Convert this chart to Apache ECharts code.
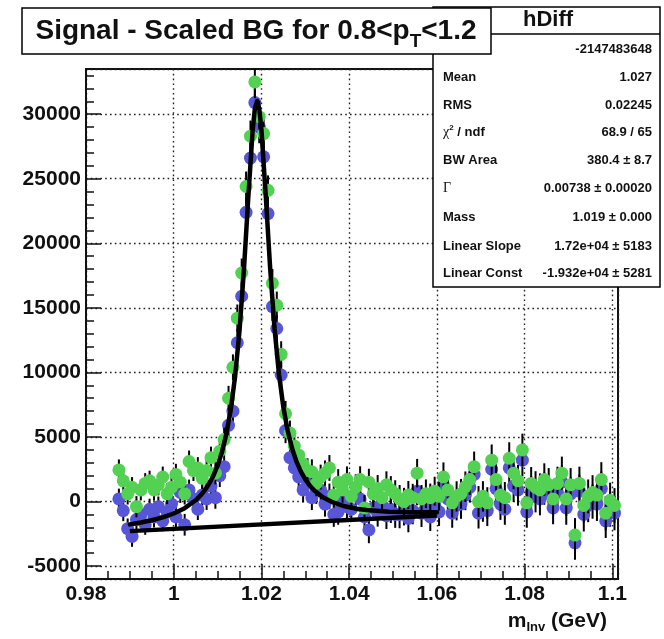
<!DOCTYPE html>
<html>
<head>
<meta charset="utf-8">
<title>hDiff</title>
<script src="https://cdn.jsdelivr.net/npm/echarts@6.0.0/dist/echarts.min.js"></script>
<style>
html,body{margin:0;padding:0;background:#ffffff;}
#chart{width:664px;height:639px;}
</style>
</head>
<body>
<div id="chart"></div>
<script>
// ---------------- data ----------------
const binCenters = [
0.9875,0.9885,0.9895,0.9905,0.9915,0.9925,0.9935,0.9945,0.9955,0.9965,
0.9975,0.9985,0.9995,1.0005,1.0015,1.0025,1.0035,1.0045,1.0055,1.0065,
1.0075,1.0085,1.0095,1.0105,1.0115,1.0125,1.0135,1.0145,1.0155,1.0165,
1.0175,1.0185,1.0195,1.0205,1.0215,1.0225,1.0235,1.0245,1.0255,1.0265,
1.0275,1.0285,1.0295,1.0305,1.0315,1.0325,1.0335,1.0345,1.0355,1.0365,
1.0375,1.0385,1.0395,1.0405,1.0415,1.0425,1.0435,1.0445,1.0455,1.0465,
1.0475,1.0485,1.0495,1.0505,1.0515,1.0525,1.0535,1.0545,1.0555,1.0565,
1.0575,1.0585,1.0595,1.0605,1.0615,1.0625,1.0635,1.0645,1.0655,1.0665,
1.0675,1.0685,1.0695,1.0705,1.0715,1.0725,1.0735,1.0745,1.0755,1.0765,
1.0775,1.0785,1.0795,1.0805,1.0815,1.0825,1.0835,1.0845,1.0855,1.0865,
1.0875,1.0885,1.0895,1.0905,1.0915,1.0925,1.0935,1.0945,1.0955,1.0965,
1.0975,1.0985,1.0995,1.1005];

const blueCounts = [
200,-700,-2100,-2700,-1400,-1000,-1800,-600,-1200,-400,
-1500,-800,-200,-1200,700,-1800,900,200,-600,500,
200,1200,300,2000,2700,5900,7000,12300,15900,22400,
26600,30900,29000,26700,22300,15100,13400,9800,5500,3400,
2600,1900,900,1500,300,800,900,-200,400,-1000,
-800,200,-400,-600,500,200,-1200,-2200,-500,-900,
-300,-1100,-600,-1000,-1000,-800,-1300,-700,800,-900,
-400,-1200,-300,-800,1300,200,-900,-300,-200,500,
1100,2100,-900,-400,-700,2500,1000,-200,-600,2600,
1200,900,3200,-800,700,400,200,1000,600,-500,
700,1500,-500,600,-3200,800,-1000,-300,0,-200,
1000,-1500,-600,-900];

const blueErrors = [
800,820,790,810,830,800,780,820,810,790,
800,830,820,790,810,840,800,820,830,810,
850,840,860,880,900,950,980,1050,1100,1150,
1200,1250,1250,1200,1150,1100,1050,1000,980,960,
950,960,970,940,960,980,950,970,990,960,
1000,980,1010,990,1000,1020,1000,1030,1010,1040,
1050,1030,1060,1040,1070,1050,1080,1060,1090,1070,
1100,1080,1110,1090,1120,1150,1130,1160,1140,1170,
1180,1160,1190,1170,1200,1210,1190,1220,1200,1230,
1240,1220,1250,1230,1260,1240,1270,1250,1280,1260,
1290,1270,1300,1280,1310,1290,1320,1300,1330,1310,
1340,1320,1350,1330];

const greenCounts = [
2450,1600,600,1100,-400,900,1400,1600,900,1300,
1900,600,1100,2100,1500,600,3100,2400,2600,1800,
2400,3400,2200,3900,4800,8000,10400,14200,17700,24400,
28300,32500,29800,28500,24100,16900,15200,11400,6800,5300,
4300,3600,2900,2400,2300,1400,1900,2200,2600,500,
1500,900,1700,400,1100,1700,-500,1500,600,1000,
300,1300,900,600,200,0,500,300,2200,200,
600,300,800,400,1900,900,-100,400,600,1150,
1700,2700,0,400,-100,3200,1700,500,300,3350,
2200,1600,4000,-100,1400,1100,900,1700,1300,200,
1400,2200,200,1300,-2600,1400,-300,400,700,500,
1700,-900,100,-300];

const greenErrors = [
810,800,830,790,820,810,800,790,830,820,
810,800,840,820,800,830,850,810,840,830,
860,850,870,890,920,960,1000,1060,1120,1160,
1210,1260,1240,1210,1160,1110,1060,1010,990,970,
960,950,980,950,970,990,960,980,1000,970,
1010,990,1020,1000,1010,1030,1010,1040,1020,1050,
1060,1040,1070,1050,1080,1060,1090,1070,1100,1080,
1110,1090,1120,1100,1130,1160,1140,1170,1150,1180,
1190,1170,1200,1180,1210,1220,1200,1230,1210,1240,
1250,1230,1260,1240,1270,1250,1280,1260,1290,1270,
1300,1280,1310,1290,1320,1300,1330,1310,1340,1320,
1350,1330,1360,1340];

// fitted Breit-Wigner + linear curve
const fitX = [0.990,0.9925,0.995,0.9975,1.000,1.0025,1.005,1.006,1.007,1.008,
1.009,1.010,1.011,1.012,1.013,1.014,1.015,1.016,1.017,1.018,
1.0185,1.019,1.0195,1.020,1.021,1.022,1.023,1.024,1.025,1.026,
1.027,1.028,1.029,1.030,1.031,1.032,1.034,1.036,1.039,1.042,
1.044,1.049,1.054,1.060];
const fitY = [-1769,-1625,-1448,-1224,-927,-514,98,430,836,1337,
1968,2774,3826,5223,7109,9692,13225,17911,23536,28760,
30421,31022,30439,28794,23605,18014,13363,9864,7315,5463,
4101,3084,2312,1715,1248,878,337,-23,-369,-574,
-663,-788,-830,-824];

// linear background component of the fit
const bgX = [0.990, 1.060];
const bgY = [-2292, -1088];

const histName = 'hDiff';
const entriesText = '-2147483648';
const statsValues = ['1.027','0.02245','68.9 / 65','380.4 \u00b1 8.7','0.00738 \u00b1 0.00020',
  '1.019 \u00b1 0.000','1.72e+04 \u00b1 5183','-1.932e+04 \u00b1 5281'];
const statsLabels = ['{b|Mean}','{b|RMS}','{g|\u03c7}{sup|2}{b| / ndf}','{b|BW Area}','{g|\u0393}',
  '{b|Mass}','{b|Linear Slope}','{b|Linear Const}'];

// ---------------- chart ----------------
const FONT = '"Liberation Sans", Arial, Helvetica, sans-serif';
const SERIF = '"Liberation Serif", "DejaVu Serif", serif';
const INK = '#111111';
const BLUE = '#5656d6';
const GREEN = '#53d152';

const chart = echarts.init(document.getElementById('chart'), null, {renderer: 'canvas', width: 664, height: 639});

function barRenderer(params, api) {
  const x = api.value(0);
  const p1 = api.coord([x, api.value(1)]);
  const p2 = api.coord([x, api.value(2)]);
  return {
    type: 'line',
    shape: {x1: p1[0], y1: p1[1], x2: p2[0], y2: p2[1]},
    style: {stroke: '#000', lineWidth: 2}
  };
}

const blueBars = binCenters.map((x, i) => [x, blueCounts[i] - blueErrors[i], blueCounts[i] + blueErrors[i]]);
const greenBars = binCenters.map((x, i) => [x, greenCounts[i] - greenErrors[i], greenCounts[i] + greenErrors[i]]);
const bluePts = binCenters.map((x, i) => [x, blueCounts[i]]);
const greenPts = binCenters.map((x, i) => [x, greenCounts[i]]);
const fitPts = fitX.map((x, i) => [x, fitY[i]]);
const bgPts = bgX.map((x, i) => [x, bgY[i]]);

const tickLine = {color: INK, width: 1.5};
const gridDots = {color: '#222', width: 1.4, type: [1.6, 3.2]};
const labelStyle = {color: INK, fontSize: 21, fontWeight: 'bold', fontFamily: FONT};

const statRowsY = [77, 105, 132, 160, 188, 217, 246, 273];
const graphics = [
  {type: 'rect', z: 100, shape: {x: 433, y: 7, width: 227, height: 280},
   style: {fill: '#fff', stroke: '#000', lineWidth: 1.5}},
  {type: 'line', z: 101, shape: {x1: 491, y1: 34, x2: 660, y2: 34},
   style: {stroke: '#000', lineWidth: 1.5}},
  {type: 'text', z: 101, x: 548, y: 20,
   style: {text: histName, fill: INK, fontSize: 22, fontWeight: 'bold', fontFamily: FONT,
           align: 'center', verticalAlign: 'middle'}},
  {type: 'text', z: 101, x: 652, y: 49,
   style: {text: entriesText, fill: INK, fontSize: 13, fontWeight: 'bold', fontFamily: FONT,
           align: 'right', verticalAlign: 'middle'}},
  {type: 'rect', z: 110, shape: {x: 22, y: 8, width: 469, height: 46},
   style: {fill: '#fff', stroke: '#000', lineWidth: 1.5}},
  {type: 'text', z: 111, x: 256, y: 31,
   style: {
     text: '{a|Signal - Scaled BG for 0.8<p}{s|T}{a|<1.2}',
     align: 'center', verticalAlign: 'middle',
     rich: {
       a: {fill: INK, fontSize: 28, fontWeight: 'bold', fontFamily: FONT, lineHeight: 46},
       s: {fill: INK, fontSize: 19, fontWeight: 'bold', fontFamily: FONT, lineHeight: 19,
           verticalAlign: 'top', padding: [24, 0, 0, 0]}
     }
   }},
  {type: 'text', z: 50, x: 607, y: 621,
   style: {
     text: '{a|m}{s|Inv}{a| (GeV)}',
     align: 'right', verticalAlign: 'middle',
     rich: {
       a: {fill: INK, fontSize: 21, fontWeight: 'bold', fontFamily: FONT, lineHeight: 30},
       s: {fill: INK, fontSize: 13, fontWeight: 'bold', fontFamily: FONT, lineHeight: 13,
           verticalAlign: 'top', padding: [15, 0, 0, 0]}
     }
   }}
];
statsLabels.forEach((lab, i) => {
  graphics.push({type: 'text', z: 101, x: 443, y: statRowsY[i],
    style: {text: lab, align: 'left', verticalAlign: 'middle',
      rich: {
        b: {fill: INK, fontSize: 13, fontWeight: 'bold', fontFamily: FONT, lineHeight: 16},
        g: {fill: INK, fontSize: 14, fontFamily: SERIF, lineHeight: 16},
        sup: {fill: INK, fontSize: 8, fontWeight: 'bold', fontFamily: FONT, lineHeight: 9, verticalAlign: 'top'}
      }}});
  graphics.push({type: 'text', z: 101, x: 652, y: statRowsY[i],
    style: {text: statsValues[i], fill: INK, fontSize: 13, fontWeight: 'bold', fontFamily: FONT,
      align: 'right', verticalAlign: 'middle'}});
});

const option = {
  animation: false,
  backgroundColor: '#ffffff',
  grid: {left: 86, right: 46, top: 69, bottom: 60, show: true, borderColor: INK, borderWidth: 2,
         backgroundColor: 'transparent', containLabel: false, outerBoundsMode: 'none'},
  xAxis: [
    {type: 'value', min: 0.98, max: 1.1013, interval: 0.02, position: 'bottom',
     axisLine: {show: true, onZero: false, lineStyle: {color: INK, width: 2}},
     axisTick: {show: true, inside: true, length: 15, lineStyle: tickLine},
     axisLabel: Object.assign({show: true, margin: 5, showMaxLabel: false,
       formatter: v => String(Math.round(v * 100) / 100)}, labelStyle),
     splitLine: {show: true, lineStyle: gridDots}, z: 3},
    {type: 'value', min: 0.98, max: 1.1013, interval: 0.005, position: 'bottom',
     axisLine: {show: false, onZero: false},
     axisTick: {show: true, inside: true, length: 8, lineStyle: tickLine},
     axisLabel: {show: false}, splitLine: {show: false}, z: 3}
  ],
  yAxis: [
    {type: 'value', min: -6000, max: 33500, splitNumber: 8, position: 'left',
     axisLine: {show: true, onZero: false, lineStyle: {color: INK, width: 2}},
     axisTick: {show: true, inside: true, length: 15, lineStyle: tickLine},
     axisLabel: Object.assign({show: true, margin: 5, showMinLabel: false, showMaxLabel: false,
       formatter: v => (v % 5000 === 0 ? String(v) : '')}, labelStyle),
     splitLine: {show: true, lineStyle: gridDots}, z: 3},
    {type: 'value', min: -6000, max: 33500, interval: 1000, position: 'left',
     axisLine: {show: false, onZero: false},
     axisTick: {show: true, inside: true, length: 8, lineStyle: tickLine},
     axisLabel: {show: false}, splitLine: {show: false}, z: 3}
  ],
  series: [
    {type: 'custom', name: 'blueErr', renderItem: barRenderer, data: blueBars,
     encode: {x: 0, y: [1, 2]}, clip: true, z: 4, silent: true},
    {type: 'scatter', name: 'blue', data: bluePts, symbol: 'circle', symbolSize: 13,
     itemStyle: {color: BLUE, opacity: 1}, z: 5, silent: true},
    {type: 'custom', name: 'greenErr', renderItem: barRenderer, data: greenBars,
     encode: {x: 0, y: [1, 2]}, clip: true, z: 6, silent: true},
    {type: 'scatter', name: 'green', data: greenPts, symbol: 'circle', symbolSize: 13,
     itemStyle: {color: GREEN, opacity: 1}, z: 7, silent: true},
    {type: 'line', name: 'fit', data: fitPts, showSymbol: false, symbol: 'none', smooth: false,
     lineStyle: {color: '#000', width: 4.5, cap: 'round', join: 'round'}, z: 8, silent: true, clip: true},
    {type: 'line', name: 'bg', data: bgPts, showSymbol: false, symbol: 'none',
     lineStyle: {color: '#000', width: 4.5}, z: 8, silent: true, clip: true}
  ],
  graphic: {elements: graphics}
};
chart.setOption(option);
</script>
</body>
</html>
